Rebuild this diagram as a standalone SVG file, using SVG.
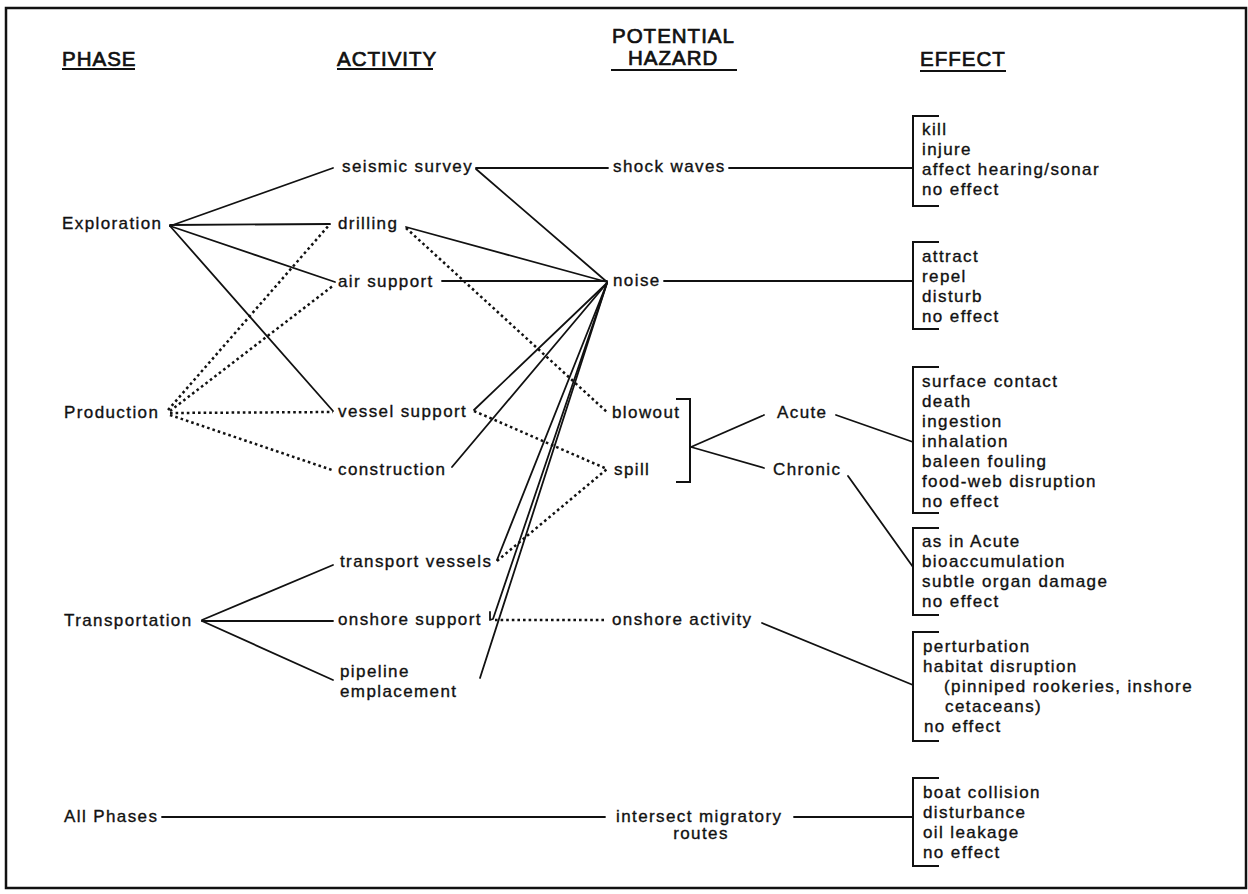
<svg xmlns="http://www.w3.org/2000/svg" width="1248" height="894" viewBox="0 0 1248 894">
<style>
text{font-family:"Liberation Sans",Arial,sans-serif;fill:#111;stroke:#111;}
.h{font-size:20.5px;letter-spacing:1px;stroke-width:0.7;}
.t{font-size:17px;letter-spacing:1.4px;stroke-width:0.35;}
.s{stroke:#111;stroke-width:1.8;fill:none;stroke-linecap:round;stroke-linejoin:round;}
.d{stroke:#111;stroke-width:2.5;fill:none;stroke-dasharray:2.6 3;}
.b{stroke:#111;stroke-width:2;fill:none;}
.u{stroke:#111;stroke-width:2;}
</style>
<rect x="6" y="8" width="1240" height="880" fill="#fff" stroke="#111" stroke-width="2.5"/>
<g id="headers">
<text class="h" x="62" y="66">PHASE</text>
<line class="u" x1="62" y1="69" x2="135" y2="69"/>
<text class="h" x="337" y="66">ACTIVITY</text>
<line class="u" x1="337" y1="69" x2="433" y2="69"/>
<text class="h" x="612" y="43">POTENTIAL</text>
<text class="h" x="628" y="65">HAZARD</text>
<line class="u" x1="611" y1="70" x2="737" y2="70"/>
<text class="h" x="920" y="66">EFFECT</text>
<line class="u" x1="920" y1="71" x2="1006" y2="71"/>
</g>
<g id="connectors">
<line class="s" x1="170" y1="226" x2="333" y2="168"/>
<line class="s" x1="170" y1="225" x2="330" y2="224"/>
<line class="s" x1="170" y1="226" x2="335" y2="282"/>
<line class="s" x1="170" y1="226" x2="333" y2="411"/>
<line class="d" x1="168" y1="410" x2="330" y2="224"/>
<line class="d" x1="170" y1="411" x2="334" y2="285"/>
<line class="d" x1="170" y1="413" x2="333" y2="412"/>
<line class="d" x1="170" y1="415" x2="332" y2="470"/>
<line class="s" x1="202" y1="620" x2="333" y2="565"/>
<line class="s" x1="202" y1="621" x2="333" y2="621"/>
<line class="s" x1="202" y1="621" x2="333" y2="680"/>
<line class="s" x1="162" y1="817" x2="605" y2="817"/>
<line class="s" x1="476" y1="168" x2="608" y2="168"/>
<line class="s" x1="476" y1="169" x2="607" y2="282"/>
<line class="s" x1="406" y1="227" x2="607" y2="282"/>
<line class="d" x1="406" y1="228" x2="608" y2="413"/>
<line class="s" x1="442" y1="281" x2="607" y2="281"/>
<line class="s" x1="474" y1="410" x2="607" y2="283"/>
<line class="d" x1="474" y1="411" x2="607" y2="469"/>
<line class="s" x1="452" y1="467" x2="607" y2="283"/>
<line class="s" x1="497" y1="560" x2="607" y2="283"/>
<line class="d" x1="497" y1="561" x2="607" y2="469"/>
<polyline class="s" points="490,612 490,620 493,619 607,283"/>
<line class="s" x1="480" y1="678" x2="607" y2="283"/>
<line class="d" x1="495" y1="620" x2="607" y2="620"/>
<line class="s" x1="729" y1="168" x2="913" y2="168"/>
<line class="s" x1="664" y1="281" x2="913" y2="281"/>
<polyline class="b" points="676,399 690,399 690,482 676,482"/>
<line class="s" x1="691" y1="447" x2="764" y2="415"/>
<line class="s" x1="691" y1="447" x2="764" y2="468"/>
<line class="s" x1="836" y1="415" x2="913" y2="442"/>
<line class="s" x1="848" y1="476" x2="913" y2="567"/>
<line class="s" x1="762" y1="623" x2="913" y2="685"/>
<line class="s" x1="794" y1="817" x2="913" y2="817"/>
</g>
<g id="phase-exploration"><text class="t" x="62" y="229">Exploration</text></g>
<g id="phase-production"><text class="t" x="64" y="418">Production</text></g>
<g id="phase-transportation"><text class="t" x="64" y="626">Transportation</text></g>
<g id="phase-all"><text class="t" x="64" y="822">All Phases</text></g>
<g id="act-seismic"><text class="t" x="342" y="172">seismic survey</text></g>
<g id="act-drilling"><text class="t" x="338" y="229">drilling</text></g>
<g id="act-air"><text class="t" x="338" y="287">air support</text></g>
<g id="act-vessel"><text class="t" x="338" y="417">vessel support</text></g>
<g id="act-construction"><text class="t" x="338" y="475">construction</text></g>
<g id="act-transport"><text class="t" x="340" y="567">transport vessels</text></g>
<g id="act-onshore"><text class="t" x="338" y="625">onshore support</text></g>
<g id="act-pipeline"><text class="t" x="340" y="677">pipeline</text><text class="t" x="340" y="697">emplacement</text></g>
<g id="haz-shock"><text class="t" x="613" y="172">shock waves</text></g>
<g id="haz-noise"><text class="t" x="613" y="286">noise</text></g>
<g id="haz-blowout"><text class="t" x="612" y="418">blowout</text></g>
<g id="haz-spill"><text class="t" x="614" y="475">spill</text></g>
<g id="haz-onshore"><text class="t" x="612" y="625">onshore activity</text></g>
<g id="haz-migratory"><text class="t" x="616" y="822">intersect migratory</text><text class="t" x="701" y="839" text-anchor="middle">routes</text></g>
<g id="acute"><text class="t" x="777" y="418">Acute</text></g>
<g id="chronic"><text class="t" x="773" y="475">Chronic</text></g>
<g id="eff-shock">
<polyline class="b" points="939,116 913,116 913,206 939,206"/>
<text class="t" x="922" y="135">kill</text>
<text class="t" x="922" y="155">injure</text>
<text class="t" x="922" y="175">affect hearing/sonar</text>
<text class="t" x="922" y="195">no effect</text>
</g>
<g id="eff-noise">
<polyline class="b" points="939,242 913,242 913,329 939,329"/>
<text class="t" x="922" y="262">attract</text>
<text class="t" x="922" y="282">repel</text>
<text class="t" x="922" y="302">disturb</text>
<text class="t" x="922" y="322">no effect</text>
</g>
<g id="eff-acute">
<polyline class="b" points="939,367 913,367 913,513 939,513"/>
<text class="t" x="922" y="387">surface contact</text>
<text class="t" x="922" y="407">death</text>
<text class="t" x="922" y="427">ingestion</text>
<text class="t" x="922" y="447">inhalation</text>
<text class="t" x="922" y="467">baleen fouling</text>
<text class="t" x="922" y="487">food-web disruption</text>
<text class="t" x="922" y="507">no effect</text>
</g>
<g id="eff-chronic">
<polyline class="b" points="939,528 913,528 913,615 939,615"/>
<text class="t" x="922" y="547">as in Acute</text>
<text class="t" x="922" y="567">bioaccumulation</text>
<text class="t" x="922" y="587">subtle organ damage</text>
<text class="t" x="922" y="607">no effect</text>
</g>
<g id="eff-onshore">
<polyline class="b" points="939,632 913,632 913,741 939,741"/>
<text class="t" x="923" y="652">perturbation</text>
<text class="t" x="923" y="672">habitat disruption</text>
<text class="t" x="944" y="692">(pinniped rookeries, inshore</text>
<text class="t" x="945" y="712">cetaceans)</text>
<text class="t" x="924" y="732">no effect</text>
</g>
<g id="eff-migratory">
<polyline class="b" points="939,778 913,778 913,866 939,866"/>
<text class="t" x="923" y="798">boat collision</text>
<text class="t" x="923" y="818">disturbance</text>
<text class="t" x="923" y="838">oil leakage</text>
<text class="t" x="923" y="858">no effect</text>
</g>
</svg>
